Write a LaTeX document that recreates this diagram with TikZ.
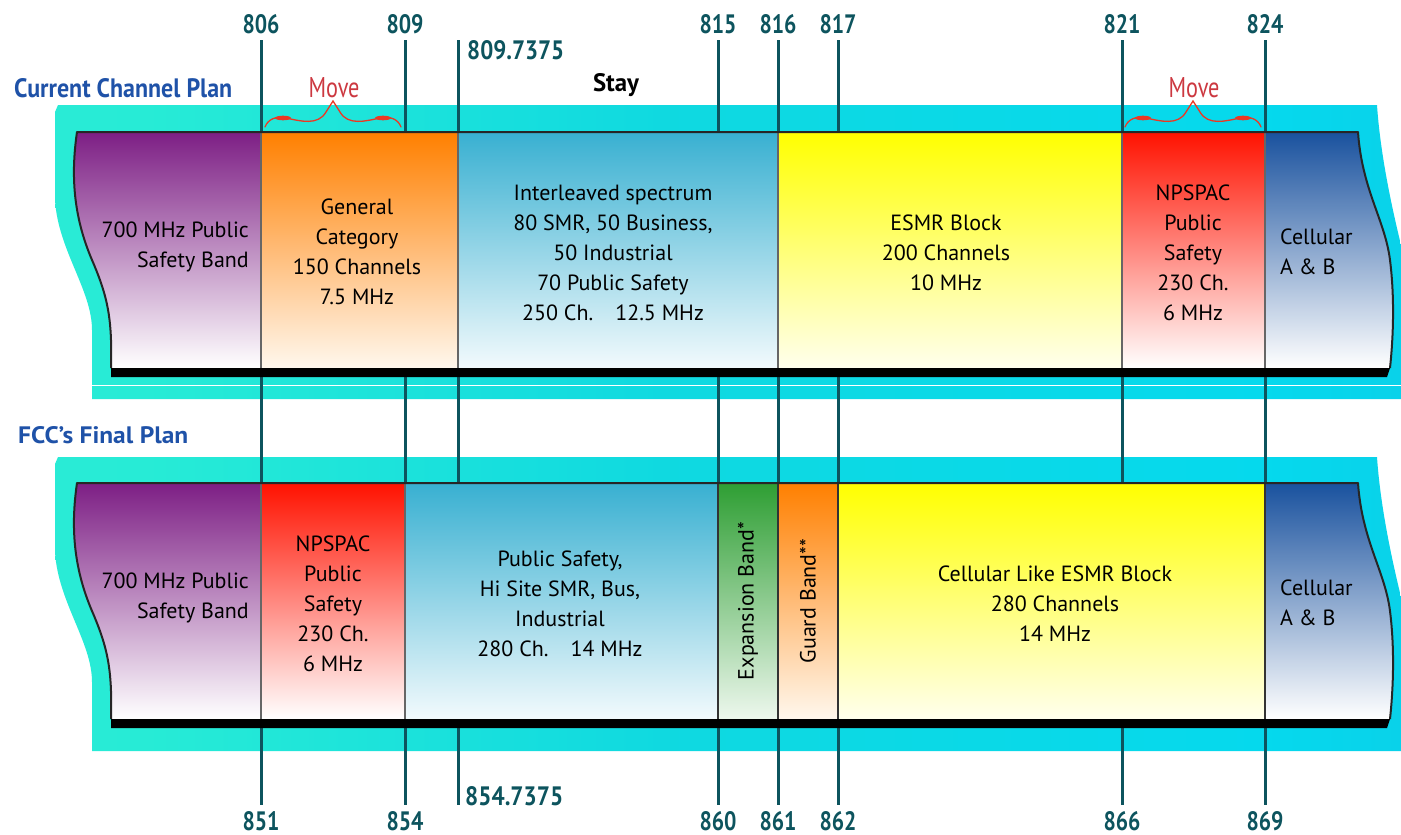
\documentclass[tikz,border=0pt]{standalone}
\usepackage{fontspec}
\setmainfont{PT Sans}
\usepackage{graphicx}
\definecolor{tealdark}{rgb}{0.05,0.33,0.37}
\definecolor{divgray}{rgb}{0.40,0.40,0.40}
\definecolor{titleblue}{rgb}{0.12,0.32,0.66}
\definecolor{movered}{rgb}{0.80,0.22,0.25}
\definecolor{bracered}{rgb}{0.92,0.22,0.14}
\definecolor{purpleT}{rgb}{0.49,0.12,0.52}
\definecolor{orangeT}{rgb}{1,0.50,0}
\definecolor{orangeB}{rgb}{1,0.97,0.93}
\definecolor{lblueT}{rgb}{0.22,0.69,0.82}
\definecolor{lblueB}{rgb}{0.95,0.98,0.99}
\definecolor{yellowT}{rgb}{1,1,0}
\definecolor{yellowB}{rgb}{1,1,0.93}
\definecolor{redT}{rgb}{1,0.07,0}
\definecolor{blueT}{rgb}{0.10,0.32,0.62}
\definecolor{greenT}{rgb}{0.18,0.62,0.20}
\definecolor{greenB}{rgb}{0.93,0.97,0.93}
\pgfdeclarehorizontalshading{cyanband}{100bp}{rgb(0bp)=(0.22,0.72,0.78); rgb(15bp)=(0.19,0.93,0.83); rgb(29bp)=(0.15,0.92,0.84); rgb(48bp)=(0.06,0.85,0.88); rgb(70bp)=(0.02,0.85,0.93); rgb(85bp)=(0.07,0.77,0.89); rgb(100bp)=(0.18,0.74,0.88)}
\newcommand\numtxt[1]{\resizebox{37pt}{19pt}{\bfseries #1}}
\newcommand\leftedge{(111,368) -- (111,340) .. controls (110,310) and (105,290) .. (92,260) .. controls (75,220) and (70,180) .. (77,132)}
\newcommand\rightedge{(1358,132) .. controls (1362,190) and (1385,220) .. (1390,260) .. controls (1395,300) and (1393,340) .. (1390,368)}
\tikzset{
  blocktxt/.style={font=\fontsize{22}{30}\selectfont, align=center, text=black, inner sep=0pt},
  numlbl/.style={inner sep=0pt, text=tealdark},
  tick/.style={draw=tealdark, line width=3pt},
  divider/.style={draw=divgray, line width=2pt},
  bandedge/.style={draw=black!85, line width=2pt, line join=round},
  cyanbg/.style={shading=cyanband},
}
\begin{document}
\begin{tikzpicture}[x=1pt,y=-1pt]
\useasboundingbox (0,0) rectangle (1401,835);
% cyan backgrounds
\foreach \dy in {0,352}{
  \begin{scope}[shift={(0,\dy)}]
    \path[cyanbg] (58,105) -- (1377,105) .. controls (1380,150) and (1390,200) .. (1401,245) -- (1401,399) -- (92,399) -- (92,330) .. controls (92,290) and (58,250) .. (55,200) -- (55,112) -- cycle;
  \end{scope}
}
\draw[white, line width=1pt] (92,385) -- (1401,385);
% frequency labels
\foreach \x/\t in {261/806, 405/809, 718/815, 778/816, 838/817, 1122/821, 1265/824}
  \node[numlbl, anchor=base] (l\t) at (\x,33) {\numtxt{\t}};
\foreach \x/\b in {261/851, 405/854, 718/860, 778/861, 838/862, 1122/866, 1265/869}
  \node[numlbl, anchor=base] (l\b) at (\x,830) {\numtxt{\b}};
\node[numlbl, anchor=base west] (l8097) at (467,59) {\resizebox{97pt}{19pt}{\bfseries 809.7375}};
\node[numlbl, anchor=base west] (l8547) at (465,805) {\resizebox{98pt}{19pt}{\bfseries 854.7375}};
\coordinate (t458) at (458,40);
\coordinate (b458) at (458,805);
% tick lines
\foreach \t/\b in {806/851, 809/854, 815/860, 816/861, 817/862, 821/866, 824/869}
  \draw[tick] ([yshift=-7pt]l\t.base) -- ([yshift=6pt]l\b.north);
\draw[tick] (t458) -- (b458);
% ---------- top band ----------
\fill[top color=purpleT, bottom color=white] \leftedge -- (261,132) -- (261,368) -- cycle;
\fill[top color=orangeT, bottom color=orangeB] (261,132) rectangle (458,368);
\fill[top color=lblueT, bottom color=lblueB] (458,132) rectangle (778,368);
\fill[top color=yellowT, bottom color=yellowB] (778,132) rectangle (1122,368);
\fill[top color=redT, bottom color=white] (1122,132) rectangle (1265,368);
\fill[top color=blueT, bottom color=white] (1265,132) -- \rightedge -- (1265,368) -- cycle;
\foreach \x in {261,458,778,1122,1265} \draw[divider] (\x,133) -- (\x,368);
\draw[bandedge] \leftedge -- \rightedge;
\fill[black] (111,368) -- (1390,368) -- (1387,377) -- (111,377) -- cycle;
% ---------- bottom band ----------
\begin{scope}[shift={(0,351)}]
\fill[top color=purpleT, bottom color=white] \leftedge -- (261,132) -- (261,368) -- cycle;
\fill[top color=redT, bottom color=white] (261,132) rectangle (405,368);
\fill[top color=lblueT, bottom color=lblueB] (405,132) rectangle (718,368);
\fill[top color=greenT, bottom color=greenB] (718,132) rectangle (778,368);
\fill[top color=orangeT, bottom color=orangeB] (778,132) rectangle (838,368);
\fill[top color=yellowT, bottom color=yellowB] (838,132) rectangle (1265,368);
\fill[top color=blueT, bottom color=white] (1265,132) -- \rightedge -- (1265,368) -- cycle;
\foreach \x in {261,405} \draw[divider] (\x,133) -- (\x,368);
\foreach \x in {718,778,838,1265} \draw[divider, draw=black!80] (\x,133) -- (\x,368);
\draw[bandedge] \leftedge -- \rightedge;
\fill[black] (111,368) -- (1390,368) -- (1387,377) -- (111,377) -- cycle;
\end{scope}
% ---------- titles ----------
\node[inner sep=0pt, anchor=base west, text=titleblue] (title1) at (14,97) {\resizebox{218pt}{19pt}{\bfseries Current Channel Plan}};
\node[inner sep=0pt, anchor=base west, text=titleblue] (title2) at (18,443) {\resizebox{170pt}{17pt}{\bfseries FCC’s Final Plan}};
\node[inner sep=0pt, anchor=base, text=movered] (move1) at (334,97) {\resizebox{51pt}{20pt}{Move}};
\node[inner sep=0pt, anchor=base, text=movered] (move2) at (1194,97) {\resizebox{51pt}{20pt}{Move}};
\node[inner sep=0pt, anchor=base, text=black] (stay) at (616,91) {\resizebox{46pt}{18pt}{\bfseries Stay}};
% braces
\foreach \bx in {265,1125}{
  \begin{scope}[shift={(\bx,0)}]
    \draw[bracered, line width=1.3pt, line cap=round] (0,127) .. controls (3,119) and (11,116) .. (21,118) .. controls (35,121) and (53,126) .. (61,112) -- (68,101) -- (75,112) .. controls (83,126) and (101,121) .. (115,118) .. controls (125,116) and (133,119) .. (136,127);
    \fill[bracered] (18,118) ellipse (8pt and 2.3pt);
    \fill[bracered] (118,118) ellipse (8pt and 2.3pt);
  \end{scope}
}
% ---------- top band texts ----------
\node[blocktxt, align=right, anchor=east] (t700a) at (249,247) {700 MHz Public\\Safety Band};
\node[blocktxt] (tgen) at (357,252) {General\\Category\\150 Channels\\7.5 MHz};
\node[blocktxt] (tint) at (613,253) {Interleaved spectrum\\80 SMR, 50 Business,\\50 Industrial\\70 Public Safety\\250 Ch.\quad 12.5 MHz};
\node[blocktxt] (tesmr) at (946,253) {ESMR Block\\200 Channels\\10 MHz};
\node[blocktxt] (tnps1) at (1193,253) {NPSPAC\\Public\\Safety\\230 Ch.\\6 MHz};
\node[blocktxt, align=left, anchor=west] (tcell1) at (1280,252) {Cellular\\A \& B};
% ---------- bottom band texts ----------
\node[blocktxt, align=right, anchor=east] (t700b) at (249,598) {700 MHz Public\\Safety Band};
\node[blocktxt] (tnps2) at (333,604) {NPSPAC\\Public\\Safety\\230 Ch.\\6 MHz};
\node[blocktxt] (tps) at (560,604) {Public Safety,\\Hi Site SMR, Bus,\\Industrial\\280 Ch.\quad 14 MHz};
\node[blocktxt, rotate=90] (texp) at (748,601) {Expansion Band*};
\node[blocktxt, rotate=90] (tguard) at (808,601) {Guard Band**};
\node[blocktxt] (tcesmr) at (1055,604) {Cellular Like ESMR Block\\280 Channels\\14 MHz};
\node[blocktxt, align=left, anchor=west] (tcell2) at (1280,603) {Cellular\\A \& B};
\end{tikzpicture}
\end{document}
